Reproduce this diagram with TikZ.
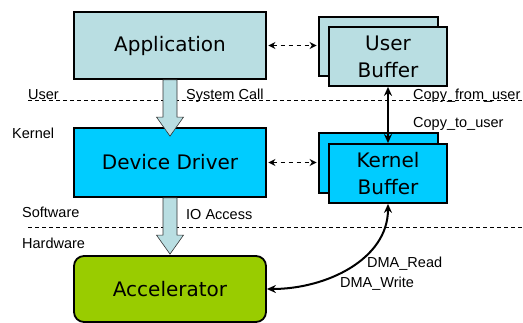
\documentclass[tikz,border=0pt]{standalone}
\usepackage{fontspec}
\setmainfont{Liberation Sans}
\newfontfamily\boxfont{DejaVu Sans}
\usetikzlibrary{calc,arrows.meta}
\definecolor{appc}{RGB}{185,222,226}
\definecolor{drvc}{RGB}{0,204,255}
\definecolor{accc}{RGB}{153,204,0}
\tikzset{
  box/.style={draw=black, line width=1.8pt, inner sep=0pt, align=center,
    font=\boxfont\fontsize{20}{27}\selectfont},
  lbl/.style={anchor=base west, inner sep=0pt, font=\fontsize{14.5}{17}\selectfont},
  sep/.style={draw=black, line width=0.9pt, dash pattern=on 4pt off 3pt},
  dashar/.style={line width=1.3pt, dash pattern=on 4pt off 4pt, shorten <=1.5pt, shorten >=1.5pt,
    {Stealth[length=7pt,width=7pt]}-{Stealth[length=7pt,width=7pt]}},
  solidar/.style={line width=2pt, {Stealth[length=9pt,width=8pt]}-{Stealth[length=9pt,width=8pt]}},
  blk/.style={draw=black!80, line width=0.6pt, fill=appc}
}
\newcommand{\blkarrow}[3]{%
  \draw[blk] ($(#1)+(-7,0)$) -- ($(#2)+(-7,#3-19)$) -- ($(#2)+(-13.5,#3-19)$)
    -- ($(#2)+(0,#3)$) -- ($(#2)+(13.5,#3-19)$) -- ($(#2)+(7,#3-19)$)
    -- ($(#1)+(7,0)$) -- cycle;}
\begin{document}
\begin{tikzpicture}[x=1pt,y=-1pt]
\useasboundingbox (0,0) rectangle (523,322);
% separators
\coordinate (s1a) at (28,100); \coordinate (s1b) at (523,100);
\coordinate (s2a) at (28,227); \coordinate (s2b) at (523,227);
\draw[sep] (s1a) -- (s1b);
\draw[sep] (s2a) -- (s2b);
% main boxes
\node[box, fill=appc, minimum width=192pt, minimum height=67pt] (app) at (170,45.5) {Application};
\node[box, fill=drvc, minimum width=192pt, minimum height=69pt] (drv) at (170,162.5) {Device Driver};
\node[box, fill=accc, rounded corners=10pt, minimum width=192pt, minimum height=66pt] (acc) at (170,289) {Accelerator};
% buffers
\node[box, fill=appc, minimum width=119pt, minimum height=59pt] (ubufb) at (378.5,46.5) {};
\node[box, fill=appc, minimum width=118pt, minimum height=59pt] (ubuf) at (388,56.5) {User\\Buffer};
\node[box, fill=drvc, minimum width=119pt, minimum height=60pt] (kbufb) at (378.5,163) {};
\node[box, fill=drvc, minimum width=118pt, minimum height=59pt] (kbuf) at (388,173.5) {Kernel\\Buffer};
% block arrows
\blkarrow{app.south}{drv.north}{9}
\blkarrow{drv.south}{acc.north}{-1}
% dashed arrows
\draw[dashar] (app.east) -- (app.east -| ubufb.west);
\draw[dashar] (drv.east) -- (drv.east -| kbufb.west);
% copy arrow
\draw[solidar] (ubuf.south) -- (kbuf.north);
% DMA arrow
\draw[solidar] (kbuf.south) .. controls +(0,55) and +(60,0) .. (acc.east);
% labels
\node[lbl] (lu) at (28,99) {User};
\node[lbl] (lk) at (12,138) {Kernel};
\node[lbl] (ls) at (22,217) {Software};
\node[lbl] (lh) at (22,248) {Hardware};
\node[lbl] (lsc) at (186,99) {System Call};
\node[lbl] (lio) at (186,219) {IO Access};
\node[lbl] (lcf) at (413,99) {Copy\_from\_user};
\node[lbl] (lct) at (413,127) {Copy\_to\_user};
\node[lbl] (ldr) at (367,267) {DMA\_Read};
\node[lbl] (ldw) at (340,287) {DMA\_Write};
\end{tikzpicture}
\end{document}
